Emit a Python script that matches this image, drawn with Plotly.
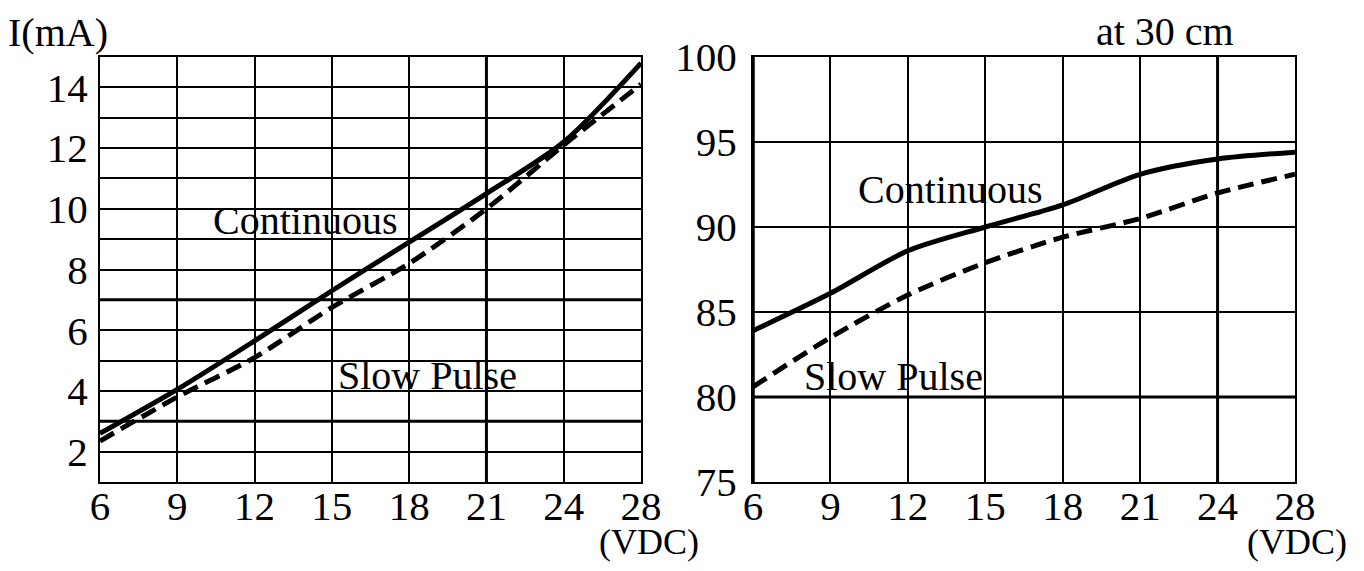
import plotly.graph_objects as go

# ---- data ----
volts = ["6", "9", "12", "15", "18", "21", "24", "28"]
current_continuous = [2.6, 4.05, 5.65, 7.3, 8.9, 10.5, 12.2, 14.8]
current_slow_pulse = [2.35, 3.8, 5.1, 6.75, 8.2, 10.0, 12.1, 14.1]
level_continuous = [83.9, 86.1, 88.6, 90.0, 91.3, 93.1, 94.0, 94.4]
level_slow_pulse = [80.6, 83.5, 86.0, 87.9, 89.4, 90.5, 92.0, 93.1]
current_ticks = [2, 4, 6, 8, 10, 12, 14]
level_ticks = [75, 80, 85, 90, 95, 100]
left_ref_h = [3, 7]
left_ref_v = "21"
right_ref_h = [80]
right_ref_v = "24"

W, H = 1364, 571
OFF = 8  # default page body margin
FW, FH = W - 2 * OFF, H - 2 * OFF
FONT = "Liberation Serif"

fig = go.Figure()

line_solid = dict(color="black", width=5, shape="spline", smoothing=0.8)
line_dash = dict(color="black", width=5, shape="spline", smoothing=0.8, dash="16px,8px")

fig.add_trace(go.Scatter(x=volts, y=current_continuous, mode="lines", line=line_solid,
                         xaxis="x", yaxis="y", showlegend=False))
fig.add_trace(go.Scatter(x=volts, y=current_slow_pulse, mode="lines", line=line_dash,
                         xaxis="x", yaxis="y", showlegend=False))
fig.add_trace(go.Scatter(x=volts, y=level_continuous, mode="lines", line=line_solid,
                         xaxis="x2", yaxis="y2", showlegend=False))
fig.add_trace(go.Scatter(x=volts, y=level_slow_pulse, mode="lines", line=line_dash,
                         xaxis="x2", yaxis="y2", showlegend=False))

px = lambda p: (p - OFF) / FW
py = lambda p: 1 - (p - OFF) / FH

tickfont = dict(family=FONT, size=41, color="black")
common_x = dict(type="category", range=[0, len(volts) - 1], showgrid=True, gridcolor="black",
                gridwidth=1.5, showline=True, linecolor="black", linewidth=2, mirror=True,
                ticks="", tickfont=tickfont, automargin=False, zeroline=False,
                ticklabelstandoff=-13, fixedrange=True)
common_y = dict(showgrid=True, gridcolor="black", gridwidth=1.5, showline=True,
                linecolor="black", linewidth=2, mirror=True, ticks="", tickfont=tickfont,
                automargin=False, zeroline=False)

fig.update_layout(
    width=FW, height=FH,
    margin=dict(l=0, r=0, t=0, b=0),
    paper_bgcolor="white", plot_bgcolor="white",
    xaxis=dict(common_x, domain=[px(100), px(641)], anchor="y"),
    yaxis=dict(common_y, domain=[py(482), py(57)], anchor="x", range=[1, 15],
               tickvals=current_ticks, ticklabelstandoff=2,
               minor=dict(tick0=1, dtick=1, showgrid=True, gridcolor="black", gridwidth=1.5)),
    xaxis2=dict(common_x, domain=[px(753), px(1295)], anchor="y2"),
    yaxis2=dict(common_y, domain=[py(482), py(57)], anchor="x2", range=[75, 100],
                tickvals=level_ticks, ticklabelstandoff=6),
)

shapes = []
for v in left_ref_h:
    shapes.append(dict(type="line", xref="x domain", yref="y", x0=0, x1=1, y0=v, y1=v,
                       line=dict(color="black", width=3), layer="below"))
vi = volts.index(left_ref_v)
shapes.append(dict(type="line", xref="x", yref="y domain", x0=vi, x1=vi, y0=0, y1=1,
                   line=dict(color="black", width=3), layer="below"))
for v in right_ref_h:
    shapes.append(dict(type="line", xref="x2 domain", yref="y2", x0=0, x1=1, y0=v, y1=v,
                       line=dict(color="black", width=3), layer="below"))
vi2 = volts.index(right_ref_v)
shapes.append(dict(type="line", xref="x2", yref="y2 domain", x0=vi2, x1=vi2, y0=0, y1=1,
                   line=dict(color="black", width=3), layer="below"))
shapes.append(dict(type="line", xref="x2 domain", yref="y2 domain", x0=0, x1=0, y0=0, y1=1,
                   line=dict(color="black", width=3.5), layer="above"))
fig.update_layout(shapes=shapes)

afont = dict(family=FONT, size=40, color="black")
vfont = dict(family=FONT, size=36, color="black")
annotations = [
    dict(text="Continuous", xref="x", yref="y", x=2.65, y=9.6, showarrow=False, font=afont),
    dict(text="Slow Pulse", xref="x", yref="y", x=4.24, y=4.5, showarrow=False, font=afont),
    dict(text="Continuous", xref="x2", yref="y2", x=2.55, y=92.2, showarrow=False, font=afont),
    dict(text="Slow Pulse", xref="x2", yref="y2", x=1.81, y=81.2, showarrow=False, font=afont),
    dict(text="I(mA)", xref="paper", yref="paper", x=px(58), y=py(33), showarrow=False,
         font=afont, xanchor="center", yanchor="middle"),
    dict(text="at 30 cm", xref="paper", yref="paper", x=px(1165), y=py(31), showarrow=False,
         font=afont, xanchor="center", yanchor="middle"),
    dict(text="(VDC)", xref="paper", yref="paper", x=px(649), y=py(542), showarrow=False,
         font=vfont, xanchor="center", yanchor="middle"),
    dict(text="(VDC)", xref="paper", yref="paper", x=px(1297), y=py(542), showarrow=False,
         font=vfont, xanchor="center", yanchor="middle"),
]
fig.update_layout(annotations=annotations)

fig.write_html("out.html")
